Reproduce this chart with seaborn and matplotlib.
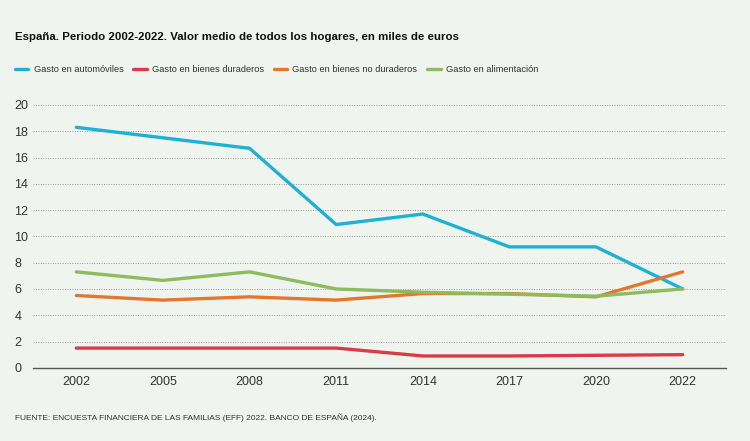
import matplotlib
matplotlib.use('Agg')
import matplotlib.pyplot as plt
import seaborn as sns
import pandas as pd
from matplotlib.ticker import FixedLocator

# Datos (miles de euros)
years = ['2002', '2005', '2008', '2011', '2014', '2017', '2020', '2022']
automoviles = [18.3, 17.5, 16.7, 10.9, 11.7, 9.2, 9.2, 6.0]
duraderos = [1.5, 1.5, 1.5, 1.5, 0.9, 0.9, 0.95, 1.0]
no_duraderos = [5.5, 5.15, 5.4, 5.15, 5.65, 5.65, 5.4, 7.3]
alimentacion = [7.3, 6.65, 7.3, 6.0, 5.75, 5.6, 5.45, 6.0]

series = {
    'Gasto en automóviles': automoviles,
    'Gasto en bienes duraderos': duraderos,
    'Gasto en bienes no duraderos': no_duraderos,
    'Gasto en alimentación': alimentacion,
}
colors = ['#1fb1d3', '#d93c48', '#e2782f', '#8dbb5d']
bg = '#eff4ee'

rows = []
for name, vals in series.items():
    for i, v in enumerate(vals):
        rows.append({'pos': i, 'valor': v, 'serie': name})
df = pd.DataFrame(rows)

sns.set_style('white')
plt.rcParams['font.family'] = ['Liberation Sans', 'DejaVu Sans']

fig = plt.figure(figsize=(7.5, 4.41), dpi=100, facecolor=bg)
ax = fig.add_axes([0.044, 0.166, 0.924, 0.596])
ax.set_facecolor(bg)

sns.lineplot(data=df, x='pos', y='valor', hue='serie', palette=colors,
             linewidth=2.4, ax=ax, legend=False)

ax.set_xlim(-0.5, len(years) - 0.5)
ax.set_ylim(0, 20)
ax.set_xlabel('')
ax.set_ylabel('')

# eje x categórico, marcas en los límites
ax.set_xticks(range(len(years)))
ax.set_xticklabels(years, fontsize=9, color='#333333')
ax.xaxis.set_minor_locator(FixedLocator([i - 0.5 for i in range(len(years) + 1)]))
ax.tick_params(axis='x', which='major', length=0, pad=6)
ax.tick_params(axis='x', which='minor', length=4, direction='in', color='#555555', width=0.9)

ax.set_yticks(range(0, 21, 2))
ax.tick_params(axis='y', length=0, pad=13.5, labelsize=9, labelcolor='#333333')
for lab in ax.get_yticklabels():
    lab.set_horizontalalignment('left')

for y in range(2, 21, 2):
    ax.axhline(y, color='#9a9a9a', linewidth=0.7, linestyle=(0, (1, 1.5)), zorder=0)

for s in ['top', 'right', 'left']:
    ax.spines[s].set_visible(False)
ax.spines['bottom'].set_color('#555555')
ax.spines['bottom'].set_linewidth(1.0)

fig.text(0.02, 0.916, 'España. Periodo 2002-2022. Valor medio de todos los hogares, en miles de euros',
         fontsize=8.25, fontweight='bold', color='#111111', va='center')

handles = [plt.Line2D([0], [0], color=c, linewidth=2.4) for c in colors]
fig.legend(handles, list(series.keys()), loc='center left', bbox_to_anchor=(0.02, 0.842),
           ncol=4, frameon=False, fontsize=6.7, handlelength=1.45, handletextpad=0.55,
           columnspacing=1.05, labelcolor='#333333', borderaxespad=0, borderpad=0)

fig.text(0.02, 0.052, 'FUENTE: ENCUESTA FINANCIERA DE LAS FAMILIAS (EFF) 2022. BANCO DE ESPAÑA (2024).',
         fontsize=6.05, color='#333333', va='center')

fig.savefig('out.png', dpi=100, facecolor=bg)
